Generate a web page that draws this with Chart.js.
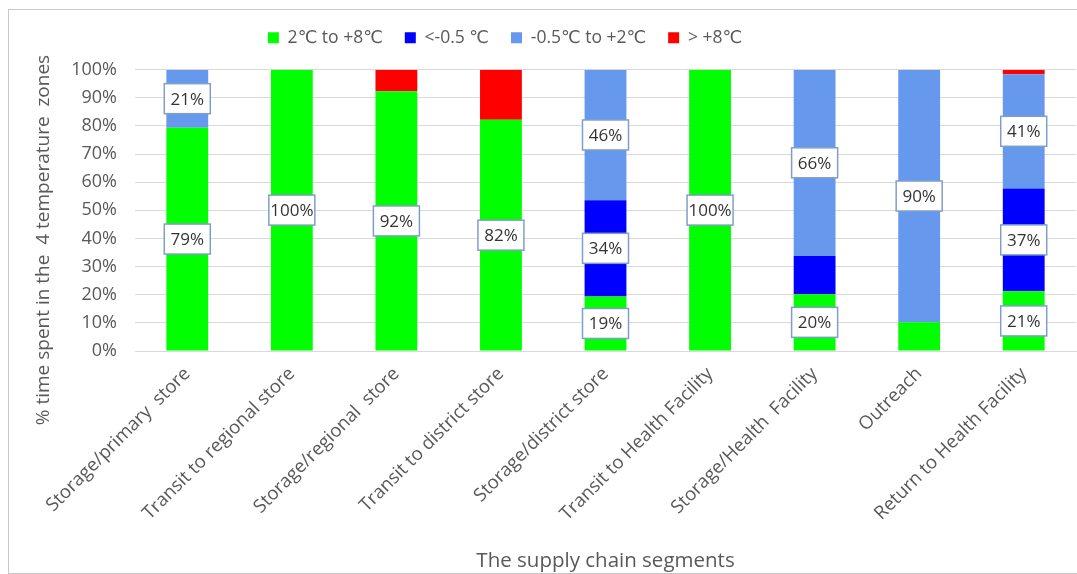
<!DOCTYPE html>
<html>
<head>
<meta charset="utf-8">
<title>Time spent in temperature zones</title>
<script src="https://cdn.jsdelivr.net/npm/chart.js@4.4.1/dist/chart.umd.min.js"></script>
<style>
    body { margin: 0; background: #fff; }
    #frame { position: absolute; left: 8px; top: 9px; width: 1100px; height: 563px; border: 1px solid #c8c8c8; }
    #chart { position: absolute; left: 0; top: 0; }
</style>
</head>
<body>
<div id="frame"></div>
<canvas id="chart" width="1077" height="574"></canvas>
<script>
"use strict";

const segments = ["Storage/primary  store", "Transit to regional store", "Storage/regional  store", "Transit to district store", "Storage/district store", "Transit to Health Facility", "Storage/Health  Facility", "Outreach", "Return to Health Facility"];
const zoneNames = ["2\u2103 to +8\u2103", "<-0.5 \u2103", "-0.5\u2103 to +2\u2103", "> +8\u2103"];
const inRange = [79.4, 100, 92.3, 82.2, 19.4, 100, 20.2, 10.2, 21.2];
const belowZero = [0, 0, 0, 0, 34.2, 0, 13.6, 0, 36.6];
const nearZero = [20.6, 0, 0, 0, 46.4, 0, 66.2, 89.8, 40.6];
const aboveEight = [0, 0, 7.7, 17.8, 0, 0, 0, 0, 1.6];
const yTicks = [0, 10, 20, 30, 40, 50, 60, 70, 80, 90, 100];

const zoneColors = ["#00ff00", "#0000ff", "#6699ee", "#ff0000"];
const labelMin = 19;
const font = "'Open Sans', 'DejaVu Sans', sans-serif";

// white boxed percentages in the middle of the bigger segments
const boxLabels = {
    id: "boxLabels",
    afterDatasetsDraw(chart) {
        const ctx = chart.ctx;
        ctx.save();
        ctx.font = "17px " + font;
        ctx.textAlign = "center";
        ctx.textBaseline = "middle";
        chart.data.datasets.forEach(function(ds, i) {
            if (ds.noLabels) return;
            chart.getDatasetMeta(i).data.forEach(function(bar, j) {
                const v = ds.data[j];
                if (v < labelMin) return;
                const cy = (bar.y + bar.base) / 2;
                ctx.fillStyle = "#ffffff";
                ctx.fillRect(bar.x - 23, cy - 15, 46, 30);
                ctx.strokeStyle = "#7f9fc6";
                ctx.lineWidth = 1.5;
                ctx.strokeRect(bar.x - 23, cy - 15, 46, 30);
                ctx.fillStyle = "#333333";
                ctx.fillText(Math.round(v) + "%", bar.x, cy + 1);
            });
        });
        ctx.restore();
    }
};

// rotated y title, centred lower than the plot like the original
const yTitle = {
    id: "yTitle",
    afterLayout(chart) {
        chart.legend.left -= 33;
        chart.legend.right -= 33;
    },
    afterDraw(chart) {
        const ctx = chart.ctx;
        ctx.save();
        ctx.translate(44, 240);
        ctx.rotate(-Math.PI / 2);
        ctx.font = "19px " + font;
        ctx.fillStyle = "#595959";
        ctx.textAlign = "center";
        ctx.textBaseline = "middle";
        ctx.fillText("% time spent in the  4 temperature  zones", 0, 0);
        ctx.restore();
    }
};

const zoneData = [inRange, belowZero, nearZero, aboveEight];

new Chart(document.getElementById("chart"), {
    type: "bar",
    data: {
        labels: segments,
        datasets: zoneData.map(function(d, i) {
            return {
                label: zoneNames[i],
                data: d,
                backgroundColor: zoneColors[i],
                borderWidth: 0,
                barPercentage: 0.8,
                categoryPercentage: 0.5,
                noLabels: i === 3
            };
        })
    },
    options: {
        responsive: false,
        animation: false,
        devicePixelRatio: 1,
        layout: {
            padding: { top: 7, left: 0, right: 1, bottom: 0 }
        },
        plugins: {
            legend: {
                position: "top",
                weight: 3000,
                labels: {
                    boxWidth: 11,
                    boxHeight: 11,
                    padding: 22,
                    color: "#595959",
                    font: { family: font, size: 17.5 }
                }
            },
            // empty title used as a spacer between legend and plot
            title: {
                display: true,
                text: "",
                font: { size: 1 },
                padding: { top: 0, bottom: 12 }
            },
            tooltip: { enabled: false }
        },
        scales: {
            x: {
                stacked: true,
                grid: { display: false },
                border: { display: true, color: "#d9d9d9" },
                ticks: {
                    color: "#595959",
                    font: { family: font, size: 18.5 },
                    minRotation: 45,
                    maxRotation: 45,
                    padding: 4
                },
                title: {
                    display: true,
                    text: "The supply chain segments",
                    color: "#595959",
                    font: { family: font, size: 20.5 },
                    padding: { top: 4, bottom: 1 }
                },
                afterFit(scale) { scale.height = 223; }
            },
            y: {
                stacked: true,
                min: 0,
                max: 100,
                afterBuildTicks(scale) {
                    scale.ticks = yTicks.map(function(v) { return { value: v }; });
                },
                grid: { color: "#d9d9d9", drawTicks: false },
                border: { display: false },
                ticks: {
                    color: "#595959",
                    font: { family: font, size: 18 },
                    padding: 18,
                    callback: function(v) { return v + "%"; }
                },
                afterFit(scale) { scale.width = 135; }
            }
        }
    },
    plugins: [boxLabels, yTitle]
});
</script>
</body>
</html>
